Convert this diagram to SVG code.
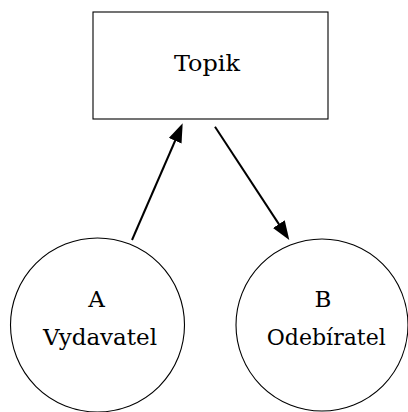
<svg xmlns="http://www.w3.org/2000/svg" width="408" height="412" viewBox="0 0 408 412">
<style>
.shape{fill:#fff;stroke:#000;stroke-width:1.1}
.edge{stroke:#000;stroke-width:2;fill:none}
</style>
<defs>
<marker id="ah" viewBox="0 0 19 14" refX="9" refY="7" markerWidth="19" markerHeight="14" markerUnits="userSpaceOnUse" orient="auto">
<path d="M0,0 L19,7 L0,14 Z" fill="#000"/>
</marker>
</defs>
<rect width="408" height="412" fill="#fff"/>
<g font-family="'DejaVu Serif', 'Liberation Serif', serif" font-size="23" fill="#000" text-anchor="middle">
<g id="topik">
<rect class="shape" x="93" y="12" width="235" height="107"/>
<text x="207" y="71" textLength="66" lengthAdjust="spacingAndGlyphs">Topik</text>
</g>
<g id="a">
<circle class="shape" cx="97.5" cy="325" r="87"/>
<text x="96.5" y="307">A</text>
<text x="100" y="345" textLength="114" lengthAdjust="spacingAndGlyphs">Vydavatel</text>
</g>
<g id="b">
<circle class="shape" cx="322" cy="325" r="86"/>
<text x="323" y="307">B</text>
<text x="326.3" y="345" textLength="119" lengthAdjust="spacingAndGlyphs">Odebíratel</text>
</g>
</g>
<g id="connectors">
<line class="edge" x1="132" y1="240" x2="178.7" y2="132.5" marker-end="url(#ah)"/>
<line class="edge" x1="215" y1="126.7" x2="283.8" y2="231.6" marker-end="url(#ah)"/>
</g>
</svg>
